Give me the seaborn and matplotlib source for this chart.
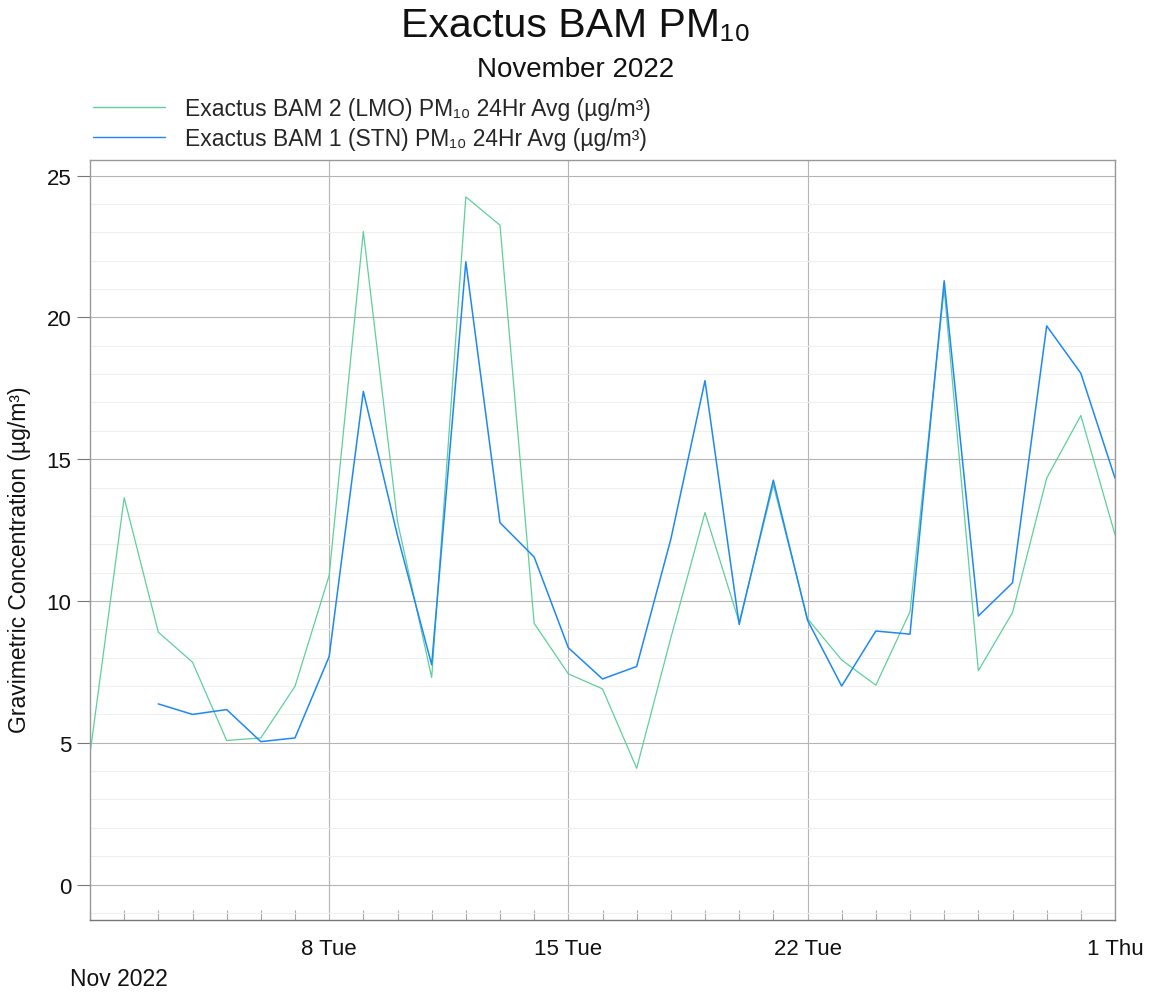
import numpy as np
import pandas as pd
import matplotlib
matplotlib.use("Agg")
import matplotlib.pyplot as plt
import matplotlib.dates as mdates
from matplotlib.ticker import MultipleLocator, FixedLocator
import seaborn as sns

dates = pd.date_range("2022-11-01", "2022-12-01", freq="D")
lmo_label = "Exactus BAM 2 (LMO) PM₁₀ 24Hr Avg (µg/m³)"
stn_label = "Exactus BAM 1 (STN) PM₁₀ 24Hr Avg (µg/m³)"
lmo_values = [4.61, 13.64, 8.9, 7.84, 5.08, 5.17, 6.99, 10.9, 23.03, 12.8, 7.3,
              24.25, 23.25, 9.21, 7.43, 6.9, 4.1, 8.7, 13.12, 9.25, 14.09, 9.38,
              7.92, 7.03, 9.62, 21.0, 7.54, 9.59, 14.33, 16.54, 12.34]
stn_values = [np.nan, np.nan, 6.37, 6.0, 6.17, 5.04, 5.17, 8.04, 17.39, 12.3, 7.75,
              21.96, 12.76, 11.55, 8.35, 7.25, 7.69, 12.18, 17.77, 9.17, 14.26, 9.32,
              7.0, 8.94, 8.83, 21.29, 9.47, 10.64, 19.7, 18.03, 14.33]
major_dates = ["2022-11-08", "2022-11-15", "2022-11-22", "2022-12-01"]
major_labels = ["8 Tue", "15 Tue", "22 Tue", "1 Thu"]

df = pd.concat([
    pd.DataFrame({"date": dates, "value": lmo_values, "series": lmo_label}),
    pd.DataFrame({"date": dates, "value": stn_values, "series": stn_label}),
], ignore_index=True)

sns.set_theme(style="white")
plt.rcParams["font.family"] = ["Liberation Sans", "DejaVu Sans"]

fig = plt.figure(figsize=(11.52, 9.95), dpi=100)
ax = fig.add_axes([90/1152, 1-921/995, (1115-90)/1152, (921-161)/995])

palette = {lmo_label: "#5fcf9e", stn_label: "#1e88f5"}
sns.lineplot(data=df, x="date", y="value", hue="series",
             hue_order=[lmo_label, stn_label], palette=palette,
             ax=ax, linewidth=1.0, legend=True)
for ln, lw in zip(ax.get_lines(), [0.9, 1.1]):
    ln.set_linewidth(lw)

ax.set_xlim(pd.Timestamp("2022-11-01"), pd.Timestamp("2022-12-01"))
ax.set_ylim(-1.25, 25.55)

ax.xaxis.set_major_locator(FixedLocator([mdates.date2num(pd.Timestamp(d)) for d in major_dates]))
ax.set_xticklabels(major_labels)
ax.xaxis.set_minor_locator(mdates.DayLocator())
ax.yaxis.set_major_locator(MultipleLocator(5))
ax.yaxis.set_minor_locator(MultipleLocator(1))

ax.tick_params(axis="x", which="major", direction="out", length=9, width=0.8,
               color="#bbbbbb", labelsize=16, pad=4, labelcolor="#111111")
ax.tick_params(axis="x", which="minor", direction="in", length=7, width=0.8,
               color="#aaaaaa", bottom=True)
ax.tick_params(axis="y", which="major", direction="out", length=9.5, width=0.8,
               color="#777777", labelsize=16, pad=4, labelcolor="#111111", left=True)
ax.tick_params(axis="y", which="minor", length=0)

ax.grid(axis="x", which="major", color="#b5b5b5", linewidth=0.8)
ax.grid(axis="y", which="major", color="#b5b5b5", linewidth=0.8)
ax.grid(axis="y", which="minor", color="#efefef", linewidth=0.8)
ax.set_axisbelow(True)

for side in ["top", "right", "left"]:
    ax.spines[side].set_color("#999999")
    ax.spines[side].set_linewidth(1.0)
ax.spines["bottom"].set_color("#777777")
ax.spines["bottom"].set_linewidth(1.0)

ax.set_xlabel("")
ax.set_ylabel("Gravimetric Concentration (µg/m³)", fontsize=16.5, color="#111111")
ax.yaxis.set_label_coords(-0.058, 0.475)

handles, labels = ax.get_legend_handles_labels()
ax.legend(handles, labels, loc="upper left", bbox_to_anchor=(84/1152, 1-89/995),
          bbox_transform=fig.transFigure, frameon=False, fontsize=16.5,
          handlelength=3.15, handletextpad=0.85, labelspacing=0.3, borderaxespad=0)

fig.text(0.5, 1-26/995, "Exactus BAM PM₁₀", ha="center", va="center", fontsize=29.5, color="#111111")
fig.text(0.5, 1-70/995, "November 2022", ha="center", va="center", fontsize=20, color="#111111")
fig.text(70/1152, 1-980/995, "Nov 2022", ha="left", va="center", fontsize=16.5, color="#111111")

fig.savefig("out.png", dpi=100)
